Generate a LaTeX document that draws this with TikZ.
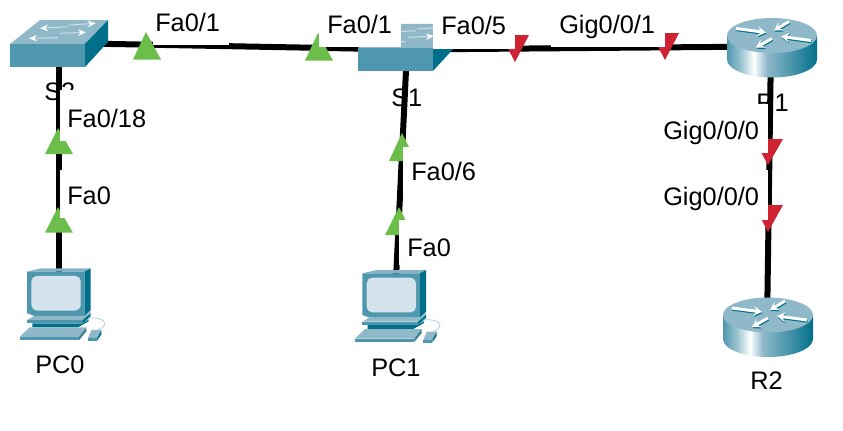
\documentclass[tikz,border=0pt]{standalone}
\usepackage{fontspec}
\setmainfont{Liberation Sans}
\usetikzlibrary{arrows.meta}
\definecolor{swfront}{HTML}{4F97AE}
\definecolor{swtop}{HTML}{8FB9C9}
\definecolor{swside}{HTML}{00708A}
\definecolor{pcscreen}{HTML}{D5E4EC}
\definecolor{linkgreen}{HTML}{6CBE4B}
\definecolor{linkred}{HTML}{CF2233}
\pgfdeclarehorizontalshading{routerbody}{100bp}{
  color(0bp)=(swfront); color(25bp)=(swfront);
  color(33bp)=(swfront!55!white); color(40bp)=(white); color(47bp)=(swtop);
  color(60bp)=(swfront); color(75bp)=(swside); color(100bp)=(swside)}
\tikzset{
  link/.style={line width=4.5pt,black},
  mask/.style={fill=white},
  devlabel/.style={anchor=base west,inner sep=0pt,font=\fontsize{19}{21}\selectfont},
  portlabel/.style={devlabel},
  anchorbox/.style={inner sep=0pt,minimum size=2pt},
  upTip/.style={fill=linkgreen},
  downTip/.style={fill=linkred},
  wharrow/.style={white!55!swtop,line width=.8pt,-{Stealth[length=6pt,width=5pt,color=white]}},
  switchicon/.pic={
    \fill[swtop] (-49,1)--(-19,-23)--(49,-23)--(26,1)--cycle;
    \fill[swfront] (-49,1) rectangle (26,24);
    \fill[swside] (26,1)--(49,-23)--(49,-1)--(26,24)--cycle;
    \draw[wharrow] (8.7,-16.3)--(-19,-14.7);
    \draw[wharrow] (10.3,-18)--(36.7,-19.7);
    \draw[wharrow] (-1.3,-5.3)--(-30,-4.7);
    \draw[wharrow] (1,-9.7)--(27,-10.7);
  },
  routericon/.pic={
    \shade[shading=routerbody] (-45,-12) -- (-45,12) arc[start angle=180,end angle=0,x radius=45,y radius=18] -- (45,-12) -- cycle;
    \fill[swtop] (0,-12) ellipse[x radius=45,y radius=17.5];
    \foreach \a/\b/\c/\d in {-36/-19/-6/-15, 17/-26/2/-17, 0/-9/-16/0, 39/-7/9/-11}{
      \draw[swside,line width=2.2pt,-{Stealth[length=6pt,width=7pt]}] (\a+.5,\b+1.2)--(\c+.5,\d+1.2);
      \draw[white,line width=2.2pt,-{Stealth[length=6pt,width=7pt]}] (\a,\b)--(\c,\d);
    }
  },
  pcicon/.pic={
    % monitor
    \fill[swtop!80!swfront] (-33.7,-26.7)--(-19.3,-30)--(30,-30)--(24,-26.7)--cycle;
    \fill[swfront] (-33.7,-26.7)--(24,-26.7)--(24,17.7)--(-26,17.7)--(-33.7,15)--cycle;
    \fill[swside] (24,-26.7)--(30,-30)--(30,11.7)--(24,17.7)--cycle;
    \fill[pcscreen,rounded corners=4pt] (-29.3,-22.3) rectangle (20,12.3);
    % base
    \fill[swtop] (-33.7,21.7)--(-27,17.7)--(24,17.7)--(30,12)--(30,15)--(22,21.7)--cycle;
    \fill[swfront] (-33.7,21.7) rectangle (22,25);
    \fill[swside] (22,21.7)--(30,15)--(30,18)--(22,25)--cycle;
    \fill[swside] (-28.3,25)--(22,25)--(28,21)--(28,23)--(17.3,29)--(-28.3,29)--cycle;
    % keyboard
    \fill[swtop] (-41,38.5)--(-31,29)--(25.7,29)--(18.3,38.5)--cycle;
    \fill[swfront] (-41,38.5) rectangle (18.3,42);
    \fill[swfront!85!black] (18.3,38.5)--(25.7,29)--(25.7,33)--(18.3,42)--cycle;
    % mouse
    \fill[swtop] (27.3,40)--(30.7,31.7)--(40.7,31.7)--(36.3,40)--cycle;
    \fill[swfront] (27.3,40) rectangle (36.3,42.5);
    \fill[swside] (36.3,40)--(40.7,31.7)--(40.7,36)--(36.3,42.5)--cycle;
    % cable
    \draw[swtop!70!white,line width=.6pt] (27.3,20) .. controls (40,18) and (52,25) .. (37,31.7);
  }
}
\begin{document}
\begin{tikzpicture}[x=0.75pt,y=-0.75pt]
\useasboundingbox (0,0) rectangle (843,430);
% device positions
\node[anchorbox] (S2) at (59,43) {};
\node[anchorbox] (S1) at (407,49.5) {};
\node[anchorbox] (R1) at (771,46.5) {};
\node[anchorbox] (R2) at (767,327) {};
\node[anchorbox] (PC0) at (59,300) {};
\node[anchorbox] (PC1) at (395,300) {};
% device labels
\node[devlabel] (lS2) at (44,100) {S2};
\node[devlabel] (lS1) at (391,106) {S1};
\node[devlabel] (lR1) at (756,111) {R1};
% links
\draw[link] (S2.center)--(S1.center);
\draw[link] (S1.center)--(R1.center);
\draw[link] (S2.center)--(PC0.center);
\draw[link] (S1.center)--(PC1.center);
\draw[link] (R1.center)--(R2.center);
% icons
\pic at (S2.center) {switchicon};
\pic at ([yshift=1.9pt]S1.center) {switchicon};
\pic at ([xshift=.75pt,yshift=-.75pt]R1.center) {routericon};
\pic at ([xshift=.75pt]R2.center) {routericon};
\pic at ([xshift=1.3pt,yshift=1.3pt]PC0.center) {pcicon};
\pic at ([xshift=.75pt]PC1.center) {pcicon};
% link state triangles
\fill[upTip] (146,32)--(133,59.5)--(161,59.5)--cycle;
\fill[upTip] (318,33)--(305,60.5)--(333,60.5)--cycle;
\fill[upTip] (58,128)--(45,154)--(73,154)--cycle;
\fill[upTip] (58,207)--(45,232.7)--(73,232.7)--cycle;
\fill[upTip] (402,133)--(389,161)--(416,161)--cycle;
\fill[upTip] (399,207)--(385,235)--(413,235)--cycle;
\fill[downTip] (501,35)--(529,35)--(515,62)--cycle;
\fill[downTip] (651,33)--(679,33)--(665,60)--cycle;
\fill[downTip] (754,139)--(783,139)--(768,165)--cycle;
\fill[downTip] (754,205)--(783,205)--(768,232)--cycle;
% label backgrounds
\fill[mask] (153,0) rectangle (229,45);
\fill[mask] (319,0) rectangle (401,47);
\fill[mask] (433,0) rectangle (515,49.3);
\fill[mask] (551,0) rectangle (665,47);
\fill[mask] (59.5,90) rectangle (150,141);
\fill[mask] (59.5,170) rectangle (115,218);
\fill[mask] (403,147) rectangle (480,195);
\fill[mask] (399,220) rectangle (455,265);
\fill[mask] (655,104) rectangle (768,153);
\fill[mask] (655,170) rectangle (768,220);
% port labels
\node[portlabel] (p1) at (155,31) {Fa0/1};
\node[portlabel] (p2) at (327,33) {Fa0/1};
\node[portlabel] (p3) at (441,34) {Fa0/5};
\node[portlabel] (p4) at (559,33) {Gig0/0/1};
\node[portlabel] (p5) at (67,127) {Fa0/18};
\node[portlabel] (p6) at (67,204) {Fa0};
\node[portlabel] (p7) at (411,180) {Fa0/6};
\node[portlabel] (p8) at (407,256) {Fa0};
\node[portlabel] (p9) at (663,139) {Gig0/0/0};
\node[portlabel] (p10) at (663,205) {Gig0/0/0};
\node[devlabel] (lPC0) at (35,373) {PC0};
\node[devlabel] (lPC1) at (371,376) {PC1};
\node[devlabel] (lR2) at (750,389) {R2};
\end{tikzpicture}
\end{document}
